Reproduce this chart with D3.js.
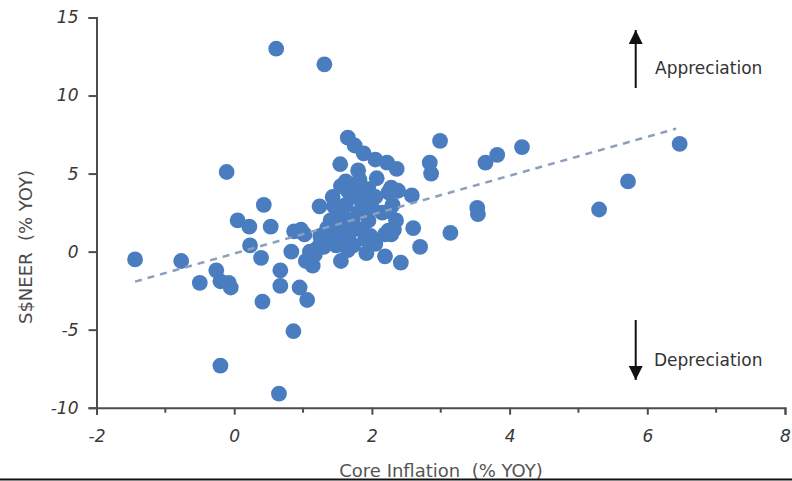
<!DOCTYPE html>
<html><head><meta charset="utf-8">
<script src="https://cdn.jsdelivr.net/npm/d3@7"></script>
<style>
html,body{margin:0;padding:0;background:#fff;}
svg{display:block;}
text{white-space:pre;}
</style>
</head><body>
<svg id="chart" width="792" height="481"></svg>
<script>
// Core inflation (% YOY)
const coreInflation = [
 0.61,1.31,-0.11,-1.44,-0.77,-0.50,-0.26,-0.20,-0.08,-0.05,
 -0.20,0.65,0.86,0.41,0.05,0.22,0.43,0.53,0.23,0.39,
 0.67,0.67,0.83,0.95,1.06,0.87,0.97,1.02,1.04,1.14,
 1.17,1.26,1.34,1.46,1.55,1.65,1.73,1.92,2.19,2.42,
 2.60,2.70,2.58,3.14,3.53,3.54,5.30,5.72,6.47,4.18,
 3.82,3.65,2.99,2.84,2.86,1.65,1.75,1.88,2.05,2.22,
 2.36,1.54,1.80,2.07,2.28,1.55,1.72,1.43,1.24,2.24,
 2.28,2.19,1.30,1.38,1.42,1.50,1.55,1.60,1.52,1.62,
 1.70,1.78,1.65,1.85,1.80,1.72,1.68,1.85,1.95,2.00,
 2.05,1.95,2.15,2.24,2.25,2.30,2.35,2.32,1.40,1.35,
 1.48,1.58,1.90,2.05,1.25,1.20,1.10,1.82,2.38,1.98,
 1.62,1.45
];
// S$NEER (% YOY)
const sneer = [
 13.0,12.0,5.1,-0.5,-0.6,-2.0,-1.2,-1.9,-2.0,-2.3,
 -7.3,-9.1,-5.1,-3.2,2.0,1.6,3.0,1.6,0.4,-0.4,
 -1.2,-2.2,0.0,-2.3,-3.1,1.3,1.4,1.1,-0.6,-0.9,
 -0.2,0.6,1.3,1.7,-0.6,0.1,0.4,-0.1,-0.3,-0.7,
 1.5,0.3,3.6,1.2,2.8,2.4,2.7,4.5,6.9,6.7,
 6.2,5.7,7.1,5.7,5.0,7.3,6.8,6.3,5.9,5.7,
 5.3,5.6,5.2,4.7,4.1,4.2,4.2,3.5,2.9,3.8,
 1.1,1.1,0.3,0.8,1.2,1.0,1.6,2.2,2.6,3.0,
 3.5,3.8,3.9,3.2,2.5,1.8,1.2,1.4,2.0,2.8,
 3.5,4.0,2.5,1.35,2.6,3.0,2.0,1.4,2.0,1.5,
 0.4,0.6,0.8,0.5,1.0,0.2,0.0,4.6,3.9,1.0,
 4.5,2.9
];
// dashed trend line end points
const trendX = [-1.44, 6.42];
const trendY = [-1.92, 7.88];
const xMajorTicks = [-2,0,2,4,6,8];
const xMinorTicks = [-1,1,3,5,7];
const yTicks = [-10,-5,0,5,10,15];
const xTitle = "Core Inflation  (% YOY)";
const yTitle = "S$NEER  (% YOY)";
const upLabel = "Appreciation";
const downLabel = "Depreciation";

const svg = d3.select("#chart");
const x = d3.scaleLinear().domain([-2,8]).range([96.5,785]);
const y = d3.scaleLinear().domain([-10,15]).range([407.7,17.5]);
const axisColor = "#4d4d4d";
const font = "'DejaVu Sans', Verdana, sans-serif";

// points
const pts = coreInflation.map((v,i)=>({x:v,y:sneer[i]}));
svg.append("g").selectAll("circle").data(pts).join("circle")
  .attr("cx",d=>x(d.x)).attr("cy",d=>y(d.y)).attr("r",7.9)
  .attr("fill","#4a7dc0");

// trend line
svg.append("line")
  .attr("x1",x(trendX[0])).attr("y1",y(trendY[0]))
  .attr("x2",x(trendX[1])).attr("y2",y(trendY[1]))
  .attr("stroke","#8c9fbb").attr("stroke-width",2.5)
  .attr("stroke-dasharray","7,6");

// axes
const fmt = d => String(d);
const gx = svg.append("g").attr("transform",`translate(0,${y(-10)})`)
  .call(d3.axisBottom(x).tickValues(xMajorTicks).tickSize(7).tickPadding(15).tickFormat(fmt));
const gy = svg.append("g").attr("transform",`translate(${x(-2)},0)`)
  .call(d3.axisLeft(y).tickValues(yTicks).tickSize(8).tickPadding(10).tickFormat(fmt));
[gx,gy].forEach(g=>{
  g.select(".domain").attr("stroke",axisColor).attr("stroke-width",2);
  g.selectAll(".tick line").attr("stroke",axisColor).attr("stroke-width",2);
  g.selectAll(".tick text").attr("fill","#383838").attr("font-size",17)
    .attr("font-style","italic").attr("font-family",font);
});
gx.append("g").selectAll("line").data(xMinorTicks).join("line")
  .attr("x1",d=>x(d)).attr("x2",d=>x(d)).attr("y1",0).attr("y2",5)
  .attr("stroke",axisColor).attr("stroke-width",2);

// titles
svg.append("text").attr("x",441).attr("y",477).attr("text-anchor","middle")
  .attr("font-family",font).attr("font-size",18).attr("fill","#555").text(xTitle);
svg.append("text").attr("transform","translate(32,247) rotate(-90)").attr("text-anchor","middle")
  .attr("font-family",font).attr("font-size",18).attr("fill","#4a4a4a").text(yTitle);

// arrows
const defs = svg.append("defs");
defs.append("marker").attr("id","ah").attr("viewBox","0 0 10 10").attr("refX",10).attr("refY",5)
  .attr("markerWidth",7).attr("markerHeight",7).attr("markerUnits","strokeWidth").attr("orient","auto")
  .append("path").attr("d","M0,0 L10,5 L0,10 Z").attr("fill","#111");
svg.append("line").attr("x1",635.7).attr("x2",635.7).attr("y1",88).attr("y2",30)
  .attr("stroke","#111").attr("stroke-width",2).attr("marker-end","url(#ah)");
svg.append("line").attr("x1",635.7).attr("x2",635.7).attr("y1",320).attr("y2",380)
  .attr("stroke","#111").attr("stroke-width",2).attr("marker-end","url(#ah)");
svg.append("text").attr("x",655).attr("y",74).attr("font-family",font).attr("font-size",17)
  .attr("fill","#333").text(upLabel);
svg.append("text").attr("x",654).attr("y",366).attr("font-family",font).attr("font-size",17)
  .attr("fill","#333").text(downLabel);

// bottom border line
svg.append("line").attr("x1",0).attr("x2",792).attr("y1",479.5).attr("y2",479.5)
  .attr("stroke","#111").attr("stroke-width",2);
</script>
</body></html>
